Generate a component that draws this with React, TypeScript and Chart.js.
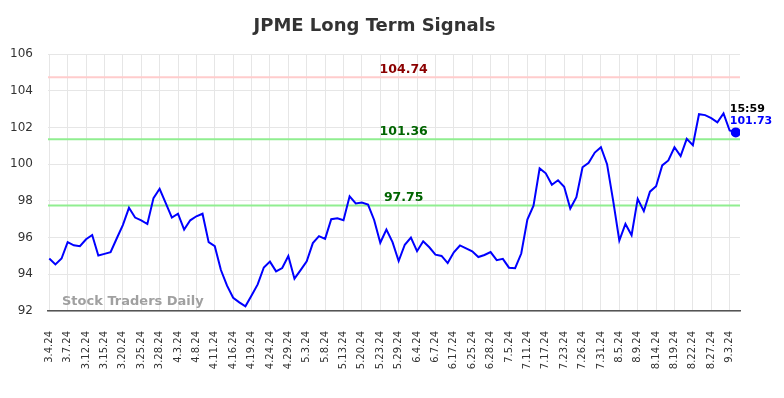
import React, { useEffect, useRef } from "react";
import { Chart, registerables } from "chart.js";

Chart.register(...registerables);

const titleText = "JPME Long Term Signals";
const watermarkText = "Stock Traders Daily";
const lastTimeLabel = "15:59";

const dates = [
  "3.4.24", "3.5.24", "3.6.24", "3.7.24", "3.8.24", "3.11.24", "3.12.24", "3.13.24", "3.14.24", "3.15.24",
  "3.18.24", "3.19.24", "3.20.24", "3.21.24", "3.22.24", "3.25.24", "3.26.24", "3.27.24", "3.28.24", "4.1.24",
  "4.2.24", "4.3.24", "4.4.24", "4.5.24", "4.8.24", "4.9.24", "4.10.24", "4.11.24", "4.12.24", "4.15.24",
  "4.16.24", "4.17.24", "4.18.24", "4.19.24", "4.22.24", "4.23.24", "4.24.24", "4.25.24", "4.26.24", "4.29.24",
  "4.30.24", "5.1.24", "5.3.24", "5.6.24", "5.7.24", "5.8.24", "5.9.24", "5.10.24", "5.13.24", "5.14.24",
  "5.16.24", "5.20.24", "5.21.24", "5.22.24", "5.23.24", "5.24.24", "5.28.24", "5.29.24", "5.30.24", "6.3.24",
  "6.4.24", "6.5.24", "6.6.24", "6.7.24", "6.11.24", "6.13.24", "6.17.24", "6.18.24", "6.21.24", "6.25.24",
  "6.26.24", "6.27.24", "6.28.24", "7.1.24", "7.3.24", "7.5.24", "7.8.24", "7.10.24", "7.11.24", "7.12.24",
  "7.16.24", "7.17.24", "7.18.24", "7.22.24", "7.23.24", "7.24.24", "7.25.24", "7.26.24", "7.29.24", "7.30.24",
  "7.31.24", "8.1.24", "8.2.24", "8.5.24", "8.6.24", "8.8.24", "8.9.24", "8.12.24", "8.13.24", "8.14.24",
  "8.15.24", "8.16.24", "8.19.24", "8.20.24", "8.21.24", "8.22.24", "8.23.24", "8.26.24", "8.27.24", "8.28.24",
  "8.30.24", "9.3.24", "9.4.24",
];

const prices = [
  94.86, 94.54, 94.86, 95.75, 95.58, 95.53, 95.91, 96.14, 95.02, 95.11,
  95.2, 95.95, 96.68, 97.62, 97.09, 96.94, 96.74, 98.15, 98.66, 97.88,
  97.09, 97.3, 96.44, 96.94, 97.16, 97.3, 95.75, 95.53, 94.23, 93.38,
  92.72, 92.47, 92.26, 92.85, 93.45, 94.37, 94.69, 94.16, 94.34, 95.0,
  93.76, 94.23, 94.71, 95.7, 96.08, 95.93, 97.0, 97.05, 96.94, 98.25,
  97.86, 97.91, 97.8, 96.96, 95.72, 96.44, 95.75, 94.72, 95.61, 96.0,
  95.26, 95.8, 95.47, 95.07, 95.0, 94.61, 95.2, 95.57, 95.41, 95.25,
  94.94, 95.05, 95.21, 94.77, 94.84, 94.36, 94.33, 95.13, 96.98, 97.74,
  99.77, 99.5, 98.88, 99.12, 98.77, 97.58, 98.2, 99.83, 100.07, 100.63,
  100.92, 100.0, 98.0, 95.84, 96.74, 96.13, 98.11, 97.44, 98.5, 98.8,
  99.93, 100.2, 100.92, 100.44, 101.38, 101.03, 102.72, 102.67, 102.51, 102.28,
  102.76, 101.83, 101.73,
];

const levelValues = [104.74, 101.36, 97.75];
const levelLineColors = ["#ffcccc", "#90ee90", "#90ee90"];
const levelTextColors = ["#8b0000", "#006400", "#006400"];

const yMin = 92;
const yMax = 106;
const yStep = 2;
const xMin = -0.21;
const xMax = 112.69;
const tickEvery = 3;

const FONT = "DejaVu Sans";

export default function App() {
  const canvasRef = useRef<HTMLCanvasElement | null>(null);

  useEffect(() => {
    const canvas = canvasRef.current;
    if (!canvas) return;
    const lastIndex = prices.length - 1;
    const tickIndices = dates.map((_, i) => i).filter((i) => i % tickEvery === 0);

    const overlay = {
      id: "overlay",
      beforeDatasetsDraw(chart: any) {
        const ctx = chart.ctx;
        const area = chart.chartArea;
        ctx.save();
        ctx.font = `bold 13px ${FONT}`;
        ctx.fillStyle = "#a0a0a0";
        ctx.textAlign = "left";
        ctx.textBaseline = "middle";
        ctx.fillText(watermarkText, area.left + 14, area.bottom - 9);
        ctx.restore();
      },
      afterDatasetsDraw(chart: any) {
        const ctx = chart.ctx;
        const area = chart.chartArea;
        const ys = chart.scales.y;
        const xs = chart.scales.x;
        ctx.save();
        ctx.font = `bold 12.5px ${FONT}`;
        ctx.textAlign = "center";
        ctx.textBaseline = "middle";
        const lx = area.left + (area.right - area.left) * 0.514;
        levelValues.forEach((v, k) => {
          ctx.fillStyle = levelTextColors[k];
          ctx.fillText(v.toFixed(2), lx, ys.getPixelForValue(v) - 7.5);
        });
        const px = xs.getPixelForValue(lastIndex);
        const py = ys.getPixelForValue(prices[lastIndex]);
        ctx.font = `bold 11px ${FONT}`;
        ctx.textAlign = "left";
        ctx.fillStyle = "#000000";
        ctx.fillText(lastTimeLabel, px - 6, py - 23.5);
        ctx.fillStyle = "#0000ff";
        ctx.fillText(prices[lastIndex].toFixed(2), px - 6, py - 11);
        ctx.restore();
      },
      afterDraw(chart: any) {
        const ctx = chart.ctx;
        ctx.save();
        ctx.font = `bold 18px ${FONT}`;
        ctx.fillStyle = "#333333";
        ctx.textAlign = "center";
        ctx.textBaseline = "middle";
        ctx.fillText(titleText, 374.5, 26);
        ctx.restore();
      },
    };

    const levelDatasets = levelValues.map((v, k) => ({
      label: "level" + k,
      data: [
        { x: xMin, y: v },
        { x: xMax, y: v },
      ],
      borderColor: levelLineColors[k],
      borderWidth: 2,
      pointRadius: 0,
      fill: false,
      order: 2,
    }));

    const chart = new Chart(canvas, {
      type: "line",
      data: {
        datasets: [
          {
            label: "price",
            data: prices.map((p, i) => ({ x: i, y: p })),
            borderColor: "#0000ff",
            backgroundColor: "#0000ff",
            borderWidth: 2,
            pointRadius: (c: any) => (c.dataIndex === lastIndex ? 4 : 0),
            pointBackgroundColor: "#0000ff",
            pointBorderColor: "#0000ff",
            tension: 0,
            fill: false,
            order: 0,
          },
          ...levelDatasets,
        ],
      },
      options: {
        animation: false,
        responsive: false,
        devicePixelRatio: 1,
        layout: { padding: { top: 54, right: 44, left: 0, bottom: 0 } },
        plugins: {
          legend: { display: false },
          tooltip: { enabled: false },
          title: { display: false },
        },
        scales: {
          x: {
            type: "linear",
            min: xMin,
            max: xMax,
            afterBuildTicks: (scale: any) => {
              scale.ticks = tickIndices.map((v) => ({ value: v }));
            },
            afterFit: (scale: any) => {
              scale.height = 87;
            },
            grid: { color: "#e6e6e6", lineWidth: 1, drawTicks: false },
            border: { display: true, color: "#555555", width: 1.5 },
            ticks: {
              autoSkip: false,
              maxRotation: 90,
              minRotation: 90,
              padding: 20,
              color: "#333333",
              font: { family: FONT, size: 10 },
              callback: (value: any) => dates[Math.round(Number(value))] ?? "",
            },
          },
          y: {
            min: yMin,
            max: yMax,
            afterFit: (scale: any) => {
              scale.width = 48;
            },
            grid: { color: "#e6e6e6", lineWidth: 1, drawTicks: false },
            border: { display: false },
            ticks: {
              stepSize: yStep,
              padding: 15,
              color: "#333333",
              font: { family: FONT, size: 12 },
            },
          },
        },
      },
      plugins: [overlay],
    } as any);

    return () => chart.destroy();
  }, []);

  return (
    <div style={{ position: "fixed", left: 0, top: 0, width: 784, height: 398, background: "#ffffff" }}>
      <canvas ref={canvasRef} width={784} height={398} style={{ display: "block" }} />
    </div>
  );
}
